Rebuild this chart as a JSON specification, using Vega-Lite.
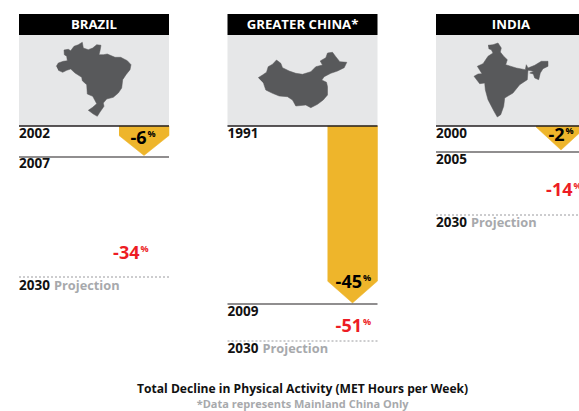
{
"$schema":"https://vega.github.io/schema/vega-lite/v6.json",
"padding":{"left":18,"top":14,"right":0,"bottom":0},
"background":"white",
"title":{"text":"Total Decline in Physical Activity (MET Hours per Week)","subtitle":"*Data represents Mainland China Only","orient":"bottom","anchor":"middle","font":"Open Sans","fontWeight":"bold","fontSize":12.1,"color":"#111111","subtitleFont":"Open Sans","subtitleFontWeight":"bold","subtitleFontSize":11,"subtitleColor":"#a7a9ac","subtitlePadding":4,"offset":23},
"config":{"view":{"stroke":null}},
"data":{"values":[
{"country":"Brazil","kind":"panel","name":"BRAZIL"},
{"country":"Greater China","kind":"panel","name":"GREATER CHINA*"},
{"country":"India","kind":"panel","name":"INDIA"},
{"country":"Brazil","kind":"solid","y":31},
{"country":"Greater China","kind":"solid","y":178},
{"country":"India","kind":"solid","y":26},
{"country":"Brazil","kind":"dotted","y":151},
{"country":"Greater China","kind":"dotted","y":215},
{"country":"India","kind":"dotted","y":89},
{"country":"Brazil","kind":"year","y":7.5,"label":"2002"},
{"country":"Brazil","kind":"year","y":38,"label":"2007"},
{"country":"Brazil","kind":"year","y":160,"label":"2030"},
{"country":"Brazil","kind":"proj","y":160,"label":"Projection"},
{"country":"Greater China","kind":"year","y":7.5,"label":"1991"},
{"country":"Greater China","kind":"year","y":186,"label":"2009"},
{"country":"Greater China","kind":"year","y":223,"label":"2030"},
{"country":"Greater China","kind":"proj","y":223,"label":"Projection"},
{"country":"India","kind":"year","y":7.5,"label":"2000"},
{"country":"India","kind":"year","y":34,"label":"2005"},
{"country":"India","kind":"year","y":97,"label":"2030"},
{"country":"India","kind":"proj","y":97,"label":"Projection"},
{"country":"Brazil","kind":"pct","x":128,"y":12,"label":"-6","tone":"actual"},
{"country":"Greater China","kind":"pct","x":135,"y":156,"label":"-45","tone":"actual"},
{"country":"India","kind":"pct","x":129,"y":9,"label":"-2","tone":"actual"},
{"country":"Brazil","kind":"pct","x":121,"y":127,"label":"-34","tone":"projected"},
{"country":"Greater China","kind":"pct","x":135,"y":200,"label":"-51","tone":"projected"},
{"country":"India","kind":"pct","x":137,"y":64,"label":"-14","tone":"projected"},
{"country":"Brazil","kind":"gold","i":0,"x":100,"y":0},
{"country":"Brazil","kind":"gold","i":1,"x":150,"y":0},
{"country":"Brazil","kind":"gold","i":2,"x":150,"y":9.5},
{"country":"Brazil","kind":"gold","i":3,"x":125,"y":29.5},
{"country":"Brazil","kind":"gold","i":4,"x":100,"y":9.5},
{"country":"Greater China","kind":"gold","i":0,"x":100,"y":0},
{"country":"Greater China","kind":"gold","i":1,"x":150,"y":0},
{"country":"Greater China","kind":"gold","i":2,"x":150,"y":155},
{"country":"Greater China","kind":"gold","i":3,"x":125,"y":177},
{"country":"Greater China","kind":"gold","i":4,"x":100,"y":155},
{"country":"India","kind":"gold","i":0,"x":100,"y":0},
{"country":"India","kind":"gold","i":1,"x":150,"y":0},
{"country":"India","kind":"gold","i":2,"x":150,"y":1},
{"country":"India","kind":"gold","i":3,"x":125,"y":24},
{"country":"India","kind":"gold","i":4,"x":100,"y":1},
{"country":"Brazil","kind":"map","i":0,"x":37.3,"y":-59.7},{"country":"Brazil","kind":"map","i":1,"x":39.3,"y":-63},{"country":"Brazil","kind":"map","i":2,"x":44.3,"y":-64.7},{"country":"Brazil","kind":"map","i":3,"x":48.3,"y":-65.3},{"country":"Brazil","kind":"map","i":4,"x":47.7,"y":-69.7},{"country":"Brazil","kind":"map","i":5,"x":45.3,"y":-71.3},{"country":"Brazil","kind":"map","i":6,"x":45,"y":-76},{"country":"Brazil","kind":"map","i":7,"x":49.3,"y":-76.7},{"country":"Brazil","kind":"map","i":8,"x":51.7,"y":-75.3},{"country":"Brazil","kind":"map","i":9,"x":55,"y":-79.7},{"country":"Brazil","kind":"map","i":10,"x":59.3,"y":-81.3},{"country":"Brazil","kind":"map","i":11,"x":63.3,"y":-83.7},{"country":"Brazil","kind":"map","i":12,"x":64.3,"y":-78},{"country":"Brazil","kind":"map","i":13,"x":69.3,"y":-76.3},{"country":"Brazil","kind":"map","i":14,"x":73.7,"y":-78},{"country":"Brazil","kind":"map","i":15,"x":77.7,"y":-81.3},{"country":"Brazil","kind":"map","i":16,"x":82,"y":-80.7},{"country":"Brazil","kind":"map","i":17,"x":81,"y":-75.3},{"country":"Brazil","kind":"map","i":18,"x":80,"y":-71.3},{"country":"Brazil","kind":"map","i":19,"x":84.3,"y":-71.3},{"country":"Brazil","kind":"map","i":20,"x":88.3,"y":-72},{"country":"Brazil","kind":"map","i":21,"x":96,"y":-68.7},{"country":"Brazil","kind":"map","i":22,"x":101.7,"y":-68.7},{"country":"Brazil","kind":"map","i":23,"x":108.3,"y":-65.3},{"country":"Brazil","kind":"map","i":24,"x":112,"y":-61.3},{"country":"Brazil","kind":"map","i":25,"x":111,"y":-56.3},{"country":"Brazil","kind":"map","i":26,"x":107,"y":-51.3},{"country":"Brazil","kind":"map","i":27,"x":103.7,"y":-46.3},{"country":"Brazil","kind":"map","i":28,"x":102.7,"y":-38},{"country":"Brazil","kind":"map","i":29,"x":99.3,"y":-33},{"country":"Brazil","kind":"map","i":30,"x":94.3,"y":-28.7},{"country":"Brazil","kind":"map","i":31,"x":87.7,"y":-27},{"country":"Brazil","kind":"map","i":32,"x":84.3,"y":-23},{"country":"Brazil","kind":"map","i":33,"x":85,"y":-19.7},{"country":"Brazil","kind":"map","i":34,"x":81,"y":-14},{"country":"Brazil","kind":"map","i":35,"x":78.3,"y":-9.7},{"country":"Brazil","kind":"map","i":36,"x":74.3,"y":-12},{"country":"Brazil","kind":"map","i":37,"x":69.3,"y":-15.7},{"country":"Brazil","kind":"map","i":38,"x":73.7,"y":-18.7},{"country":"Brazil","kind":"map","i":39,"x":77.7,"y":-22.3},{"country":"Brazil","kind":"map","i":40,"x":73.7,"y":-29.7},{"country":"Brazil","kind":"map","i":41,"x":68.3,"y":-32},{"country":"Brazil","kind":"map","i":42,"x":67.7,"y":-41.3},{"country":"Brazil","kind":"map","i":43,"x":63.3,"y":-45.3},{"country":"Brazil","kind":"map","i":44,"x":62.7,"y":-48.7},{"country":"Brazil","kind":"map","i":45,"x":56,"y":-53},{"country":"Brazil","kind":"map","i":46,"x":51.7,"y":-57},{"country":"Brazil","kind":"map","i":47,"x":47.7,"y":-55.7},{"country":"Brazil","kind":"map","i":48,"x":43.7,"y":-53.7},{"country":"Brazil","kind":"map","i":49,"x":39.3,"y":-55.7},
{"country":"Greater China","kind":"map","i":0,"x":30.7,"y":-48.3},{"country":"Greater China","kind":"map","i":1,"x":35,"y":-51},{"country":"Greater China","kind":"map","i":2,"x":39,"y":-53.7},{"country":"Greater China","kind":"map","i":3,"x":40.7,"y":-59.3},{"country":"Greater China","kind":"map","i":4,"x":45,"y":-61.7},{"country":"Greater China","kind":"map","i":5,"x":49,"y":-66},{"country":"Greater China","kind":"map","i":6,"x":53.3,"y":-62.7},{"country":"Greater China","kind":"map","i":7,"x":55,"y":-58.3},{"country":"Greater China","kind":"map","i":8,"x":61.7,"y":-55},{"country":"Greater China","kind":"map","i":9,"x":68.3,"y":-52.7},{"country":"Greater China","kind":"map","i":10,"x":75,"y":-51.7},{"country":"Greater China","kind":"map","i":11,"x":83.3,"y":-54.3},{"country":"Greater China","kind":"map","i":12,"x":88.3,"y":-59.3},{"country":"Greater China","kind":"map","i":13,"x":95,"y":-61},{"country":"Greater China","kind":"map","i":14,"x":92.7,"y":-65},{"country":"Greater China","kind":"map","i":15,"x":98.3,"y":-68.3},{"country":"Greater China","kind":"map","i":16,"x":100,"y":-73},{"country":"Greater China","kind":"map","i":17,"x":105,"y":-73.7},{"country":"Greater China","kind":"map","i":18,"x":108.3,"y":-69.3},{"country":"Greater China","kind":"map","i":19,"x":112.3,"y":-64.3},{"country":"Greater China","kind":"map","i":20,"x":119.3,"y":-63.7},{"country":"Greater China","kind":"map","i":21,"x":116.7,"y":-58.3},{"country":"Greater China","kind":"map","i":22,"x":110,"y":-55},{"country":"Greater China","kind":"map","i":23,"x":103.3,"y":-52.7},{"country":"Greater China","kind":"map","i":24,"x":96.7,"y":-49.3},{"country":"Greater China","kind":"map","i":25,"x":94.3,"y":-46},{"country":"Greater China","kind":"map","i":26,"x":99,"y":-43.7},{"country":"Greater China","kind":"map","i":27,"x":100,"y":-39.3},{"country":"Greater China","kind":"map","i":28,"x":100,"y":-31},{"country":"Greater China","kind":"map","i":29,"x":95.7,"y":-26},{"country":"Greater China","kind":"map","i":30,"x":90,"y":-21.7},{"country":"Greater China","kind":"map","i":31,"x":83.3,"y":-18.3},{"country":"Greater China","kind":"map","i":32,"x":78.3,"y":-21},{"country":"Greater China","kind":"map","i":33,"x":68.3,"y":-20},{"country":"Greater China","kind":"map","i":34,"x":65,"y":-26},{"country":"Greater China","kind":"map","i":35,"x":60,"y":-29.3},{"country":"Greater China","kind":"map","i":36,"x":51.7,"y":-30},{"country":"Greater China","kind":"map","i":37,"x":45,"y":-32.7},{"country":"Greater China","kind":"map","i":38,"x":38.3,"y":-36},{"country":"Greater China","kind":"map","i":39,"x":36,"y":-42.7},
{"country":"India","kind":"map","i":0,"x":52,"y":-80.7},{"country":"India","kind":"map","i":1,"x":57,"y":-81.3},{"country":"India","kind":"map","i":2,"x":62,"y":-83},{"country":"India","kind":"map","i":3,"x":65.3,"y":-78},{"country":"India","kind":"map","i":4,"x":64.3,"y":-74},{"country":"India","kind":"map","i":5,"x":67.7,"y":-69.7},{"country":"India","kind":"map","i":6,"x":71.3,"y":-66.3},{"country":"India","kind":"map","i":7,"x":69.7,"y":-61.3},{"country":"India","kind":"map","i":8,"x":80.3,"y":-58},{"country":"India","kind":"map","i":9,"x":89.3,"y":-56.3},{"country":"India","kind":"map","i":10,"x":90.3,"y":-61.3},{"country":"India","kind":"map","i":11,"x":92,"y":-58},{"country":"India","kind":"map","i":12,"x":98.7,"y":-60.7},{"country":"India","kind":"map","i":13,"x":105.3,"y":-64.7},{"country":"India","kind":"map","i":14,"x":112,"y":-64.7},{"country":"India","kind":"map","i":15,"x":112,"y":-59.7},{"country":"India","kind":"map","i":16,"x":107,"y":-57.3},{"country":"India","kind":"map","i":17,"x":104.3,"y":-53},{"country":"India","kind":"map","i":18,"x":102.7,"y":-46.3},{"country":"India","kind":"map","i":19,"x":98.7,"y":-48},{"country":"India","kind":"map","i":20,"x":97.3,"y":-52},{"country":"India","kind":"map","i":21,"x":93.7,"y":-53},{"country":"India","kind":"map","i":22,"x":97.7,"y":-54.7},{"country":"India","kind":"map","i":23,"x":92,"y":-55.7},{"country":"India","kind":"map","i":24,"x":91.3,"y":-46.3},{"country":"India","kind":"map","i":25,"x":83.7,"y":-41.3},{"country":"India","kind":"map","i":26,"x":77,"y":-33},{"country":"India","kind":"map","i":27,"x":68.7,"y":-28},{"country":"India","kind":"map","i":28,"x":67.7,"y":-19.7},{"country":"India","kind":"map","i":29,"x":64.7,"y":-11.3},{"country":"India","kind":"map","i":30,"x":61.3,"y":-9},{"country":"India","kind":"map","i":31,"x":58,"y":-14.7},{"country":"India","kind":"map","i":32,"x":52,"y":-26.3},{"country":"India","kind":"map","i":33,"x":49.3,"y":-36.3},{"country":"India","kind":"map","i":34,"x":48.7,"y":-43},{"country":"India","kind":"map","i":35,"x":43.7,"y":-42.3},{"country":"India","kind":"map","i":36,"x":38,"y":-49.7},{"country":"India","kind":"map","i":37,"x":42,"y":-52},{"country":"India","kind":"map","i":38,"x":46,"y":-52.3},{"country":"India","kind":"map","i":39,"x":41.3,"y":-59.7},{"country":"India","kind":"map","i":40,"x":47,"y":-62.3},{"country":"India","kind":"map","i":41,"x":52,"y":-69.7},{"country":"India","kind":"map","i":42,"x":57,"y":-73},{"country":"India","kind":"map","i":43,"x":55.3,"y":-76.3},{"country":"India","kind":"map","i":44,"x":52.7,"y":-77.3}
]},
"facet":{"column":{"field":"country","sort":["Brazil","Greater China","India"],"header":null}},
"spacing":56.5,
"spec":{
"width":150,"height":346,
"encoding":{},
"layer":[
{"transform":[{"filter":"datum.kind==='panel'"}],"mark":{"type":"rect","fill":"#000000"},
 "encoding":{"x":{"datum":0,"type":"quantitative","scale":{"domain":[0,150],"nice":false,"zero":false},"axis":null},"x2":{"datum":150},"y":{"datum":-112,"type":"quantitative","scale":{"domain":[-112,234],"reverse":true,"nice":false,"zero":false},"axis":null},"y2":{"datum":-91}}},
{"transform":[{"filter":"datum.kind==='panel'"}],"mark":{"type":"rect","fill":"#e6e7e8"},
 "encoding":{"x":{"datum":0,"type":"quantitative"},"x2":{"datum":150},"y":{"datum":-91,"type":"quantitative"},"y2":{"datum":0}}},
{"transform":[{"filter":"datum.kind==='map'"}],"mark":{"type":"line","fill":"#58595b","stroke":"#58595b","strokeWidth":0.5,"interpolate":"linear"},
 "encoding":{"x":{"field":"x","type":"quantitative"},"y":{"field":"y","type":"quantitative"},"order":{"field":"i","type":"quantitative"}}},
{"transform":[{"filter":"datum.kind==='gold'"}],"mark":{"type":"line","fill":"#eeb52b","stroke":"#eeb52b","strokeWidth":0.5,"interpolate":"linear"},
 "encoding":{"x":{"field":"x","type":"quantitative"},"y":{"field":"y","type":"quantitative"},"order":{"field":"i","type":"quantitative"}}},
{"transform":[{"filter":"datum.kind==='panel'"}],"mark":{"type":"rule","stroke":"#231f20","strokeWidth":1.5},
 "encoding":{"x":{"datum":0,"type":"quantitative"},"x2":{"datum":150},"y":{"datum":0,"type":"quantitative"}}},
{"transform":[{"filter":"datum.kind==='solid'"}],"mark":{"type":"rule","stroke":"#231f20","strokeWidth":1.2},
 "encoding":{"x":{"datum":0,"type":"quantitative"},"x2":{"datum":150},"y":{"field":"y","type":"quantitative"}}},
{"transform":[{"filter":"datum.kind==='dotted'"}],"mark":{"type":"rule","stroke":"#808285","strokeWidth":0.8,"strokeDash":[2,2]},
 "encoding":{"x":{"datum":0,"type":"quantitative"},"x2":{"datum":150},"y":{"field":"y","type":"quantitative"}}},
{"transform":[{"filter":"datum.kind==='panel'"}],"mark":{"type":"text","font":"Open Sans","fontWeight":"bold","fontSize":13.2,"fill":"#ffffff","align":"center","baseline":"middle"},
 "encoding":{"x":{"datum":75,"type":"quantitative"},"y":{"datum":-101,"type":"quantitative"},"text":{"field":"name"}}},
{"transform":[{"filter":"datum.kind==='year'"}],"mark":{"type":"text","font":"Open Sans","fontWeight":"bold","fontSize":13.5,"fill":"#111111","align":"left","baseline":"middle"},
 "encoding":{"x":{"datum":0,"type":"quantitative"},"y":{"field":"y","type":"quantitative"},"text":{"field":"label"}}},
{"transform":[{"filter":"datum.kind==='proj'"}],"mark":{"type":"text","font":"Open Sans","fontWeight":"bold","fontSize":12.8,"fill":"#a7a9ac","align":"left","baseline":"middle"},
 "encoding":{"x":{"datum":35,"type":"quantitative"},"y":{"field":"y","type":"quantitative"},"text":{"field":"label"}}},
{"transform":[{"filter":"datum.kind==='pct'"}],"mark":{"type":"text","font":"Open Sans","fontWeight":"bold","fontSize":18,"align":"right","baseline":"middle","dy":1,"dx":-0.5},
 "encoding":{"x":{"field":"x","type":"quantitative"},"y":{"field":"y","type":"quantitative"},"text":{"field":"label"},"color":{"field":"tone","type":"nominal","legend":null,"scale":{"domain":["actual","projected"],"range":["#000000","#ed1c24"]}}}},
{"transform":[{"filter":"datum.kind==='pct'"}],"mark":{"type":"text","font":"Open Sans","fontWeight":"bold","fontSize":9,"align":"left","baseline":"middle","dy":-4,"dx":0.5,"text":"%"},
 "encoding":{"x":{"field":"x","type":"quantitative"},"y":{"field":"y","type":"quantitative"},"color":{"field":"tone","type":"nominal","legend":null}}}
]
}
}
